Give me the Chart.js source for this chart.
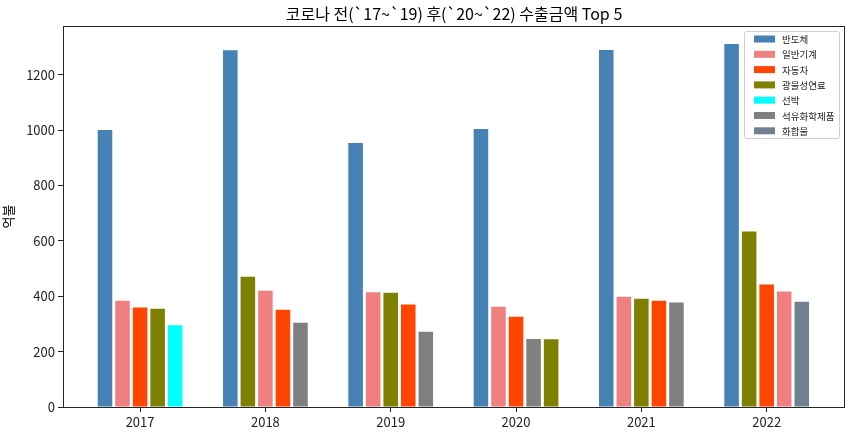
<!DOCTYPE html>
<html>
<head>
<meta charset="utf-8">
<script src="https://cdn.jsdelivr.net/npm/chart.js@4.4.0/dist/chart.umd.min.js"></script>
<style>
html, body { margin: 0; padding: 0; background: #fff; }
#wrap { width: 851px; height: 435px; }
</style>
</head>
<body>
<div id="wrap"><canvas id="chart-top5"></canvas></div>
<script>
// 연도별 수출금액 Top 5 (억불), 순위 순서
var years = [2017, 2018, 2019, 2020, 2021, 2022];

var items2017 = ['반도체', '일반기계', '자동차', '광물성연료', '선박'];
var values2017 = [1000, 384, 359, 355, 295];
var items2018 = ['반도체', '광물성연료', '일반기계', '자동차', '석유화학제품'];
var values2018 = [1288, 470, 420, 351, 304];
var items2019 = ['반도체', '일반기계', '광물성연료', '자동차', '석유화학제품'];
var values2019 = [953, 414, 413, 370, 272];
var items2020 = ['반도체', '일반기계', '자동차', '석유화학제품', '광물성연료'];
var values2020 = [1004, 362, 326, 246, 245];
var items2021 = ['반도체', '일반기계', '광물성연료', '자동차', '석유화학제품'];
var values2021 = [1289, 398, 391, 384, 377];
var items2022 = ['반도체', '광물성연료', '자동차', '일반기계', '화합물'];
var values2022 = [1311, 634, 442, 417, 380];

var categories = ['반도체', '일반기계', '자동차', '광물성연료', '선박', '석유화학제품', '화합물'];
var yTicks = [0, 200, 400, 600, 800, 1000, 1200];

var colorMap = {
    '반도체': '#4682B4',
    '일반기계': '#F08080',
    '자동차': '#FF4500',
    '광물성연료': '#808000',
    '선박': '#00FFFF',
    '석유화학제품': '#808080',
    '화합물': '#708090'
};

var FONT = "'Noto Sans CJK KR', 'Noto Sans', sans-serif";
var allItems = [items2017, items2018, items2019, items2020, items2021, items2022];
var allValues = [values2017, values2018, values2019, values2020, values2021, values2022];

// 순위별 dataset 5개 (막대 색은 품목별)
var datasets = [];
for (var r = 0; r < 5; r++) {
    var pts = [], cols = [];
    for (var i = 0; i < years.length; i++) {
        pts.push({ x: years[i], y: allValues[i][r], item: allItems[i][r] });
        cols.push(colorMap[allItems[i][r]]);
    }
    datasets.push({
        label: 'rank' + (r + 1),
        data: pts,
        backgroundColor: cols,
        borderWidth: 0,
        categoryPercentage: 0.7,
        barPercentage: 0.83
    });
}

// 제목, 테두리, 범례
var framePlugin = {
    id: 'framePlugin',
    afterDraw: function (chart) {
        var ctx = chart.ctx, a = chart.chartArea;
        ctx.save();
        ctx.strokeStyle = '#262626';
        ctx.lineWidth = 1;
        ctx.strokeRect(Math.round(a.left) + 0.5, Math.round(a.top) + 0.5,
            Math.round(a.right - a.left) - 1, Math.round(a.bottom - a.top));

        ctx.fillStyle = '#000';
        ctx.font = '16px ' + FONT;
        ctx.textAlign = 'center';
        ctx.textBaseline = 'middle';
        ctx.fillText('코로나 전(`17~`19) 후(`20~`22) 수출금액 Top 5', (a.left + a.right) / 2, 14);

        // legend box
        var bx = 744, by = 31, bw = 95, bh = 107;
        ctx.fillStyle = 'rgba(255,255,255,0.85)';
        ctx.strokeStyle = '#d0d0d0';
        ctx.beginPath();
        ctx.roundRect(bx + 0.5, by + 0.5, bw, bh, 2);
        ctx.fill();
        ctx.stroke();
        ctx.font = '9.5px ' + FONT;
        ctx.textAlign = 'left';
        for (var k = 0; k < categories.length; k++) {
            var cy = 39 + k * 15.3;
            ctx.fillStyle = colorMap[categories[k]];
            ctx.fillRect(754, cy - 3.5, 21, 7);
            ctx.fillStyle = '#222';
            ctx.fillText(categories[k], 782, cy + 0.5);
        }
        ctx.restore();
    }
};

var ctx_top5 = document.getElementById('chart-top5').getContext('2d');
var chart_top5 = new Chart(ctx_top5, {
    type: 'bar',
    data: { datasets: datasets },
    options: {
        responsive: true,
        maintainAspectRatio: false,
        animation: false,
        layout: { padding: { top: 26, right: 6, left: 0, bottom: 0 } },
        plugins: {
            legend: { display: false },
            title: { display: false },
            tooltip: { enabled: false }
        },
        scales: {
            x: {
                type: 'linear',
                offset: false,
                min: 2016.385,
                max: 2022.625,
                afterBuildTicks: function (s) { s.ticks = years.map(function (v) { return { value: v }; }); },
                afterFit: function (s) { s.height = 28; },
                ticks: {
                    color: '#222',
                    font: { family: FONT, size: 13 },
                    padding: 2,
                    maxRotation: 0,
                    callback: function (v) { return String(v); }
                },
                grid: { offset: false, drawOnChartArea: false, tickLength: 5, color: '#262626' },
                border: { display: false }
            },
            y: {
                min: 0,
                max: 1376,
                afterBuildTicks: function (s) { s.ticks = yTicks.map(function (v) { return { value: v }; }); },
                afterFit: function (s) { s.width = 63; },
                ticks: {
                    color: '#222',
                    font: { family: FONT, size: 13 },
                    padding: 3,
                    callback: function (v) { return String(v); }
                },
                grid: { drawOnChartArea: false, tickLength: 5, color: '#262626' },
                border: { display: false },
                title: {
                    display: true,
                    text: '억불',
                    color: '#000',
                    font: { family: FONT, size: 13 },
                    padding: { top: 0, bottom: 0 }
                }
            }
        }
    },
    plugins: [framePlugin]
});
</script>
</body>
</html>
